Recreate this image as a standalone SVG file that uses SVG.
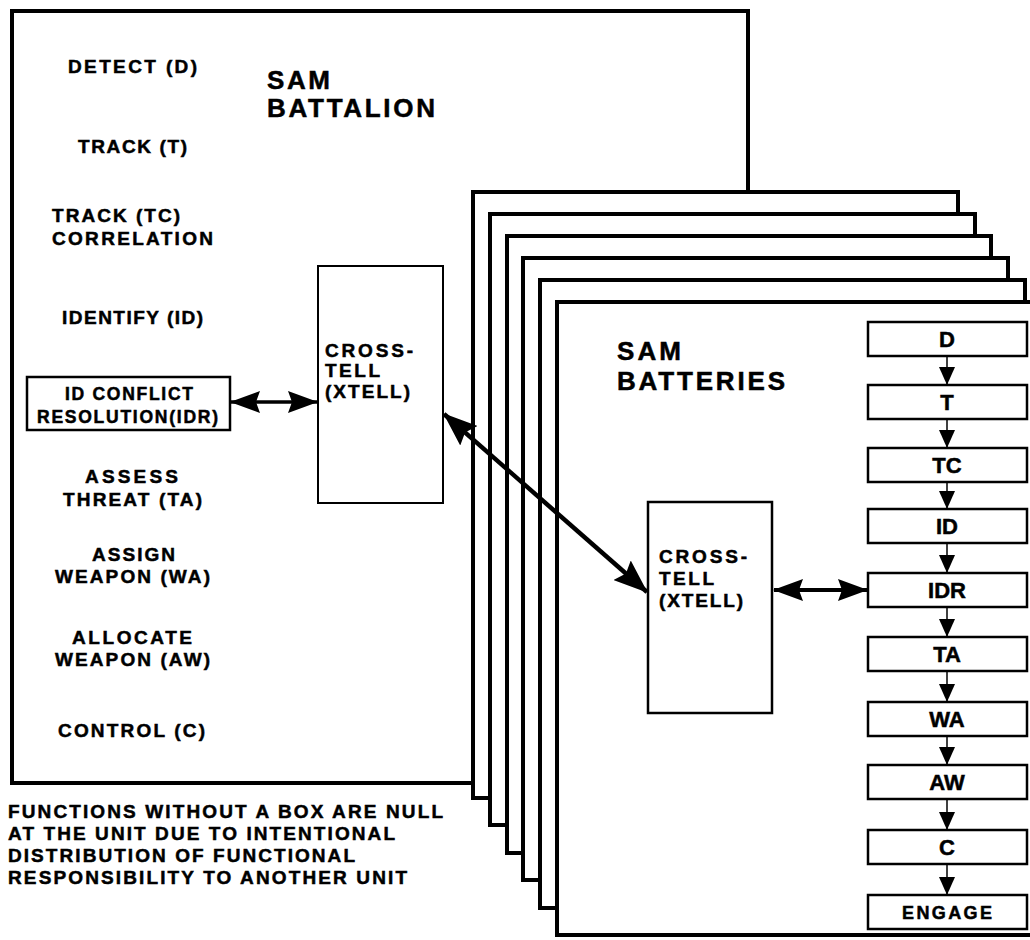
<svg xmlns="http://www.w3.org/2000/svg" width="1030" height="940" viewBox="0 0 1030 940">
<style>
text{font-family:"Liberation Sans",Arial,sans-serif;font-weight:bold;fill:#000;stroke:#000;stroke-width:0.5}
.lb{font-size:19px}
.sm{font-size:17.5px}
.big{font-size:26px}
.bx{font-size:22px;text-anchor:middle}
.c{text-anchor:middle}
.frame{fill:#fff;stroke:#000;stroke-width:4}
.box{fill:#fff;stroke:#000;stroke-width:2.5}
.cl{fill:none;stroke:#000}
</style>
<defs>
<marker id="ah" markerUnits="userSpaceOnUse" markerWidth="30" markerHeight="22" refX="29" refY="11" orient="auto-start-reverse" viewBox="0 0 30 22">
<path d="M0,0 L30,11 L0,22 L4,11 Z" fill="#000"/>
</marker>
<marker id="ahd" markerUnits="userSpaceOnUse" markerWidth="34" markerHeight="26" refX="33" refY="13" orient="auto-start-reverse" viewBox="0 0 34 26">
<path d="M0,0 L34,13 L0,26 L5,13 Z" fill="#000"/>
</marker>
<marker id="sm" markerUnits="userSpaceOnUse" markerWidth="18" markerHeight="16" refX="18" refY="8" orient="auto" viewBox="0 0 18 16">
<path d="M0,0 L18,8 L0,16 Z" fill="#000"/>
</marker>
</defs>

<g id="battalion">
<rect class="frame" x="12" y="11" width="736" height="772"/>
<text class="big" x="267" y="89" textLength="63">SAM</text>
<text class="big" x="267" y="117" textLength="168">BATTALION</text>
<text class="lb c" x="132.5" y="73" textLength="129">DETECT (D)</text>
<text class="lb c" x="132.5" y="153" textLength="109">TRACK (T)</text>
<text class="lb" x="52" y="222" textLength="128">TRACK (TC)</text>
<text class="lb" x="52" y="245" textLength="161">CORRELATION</text>
<text class="lb c" x="132.5" y="324" textLength="141">IDENTIFY (ID)</text>
<text class="lb c" x="131.5" y="483" textLength="93">ASSESS</text>
<text class="lb c" x="132.5" y="506" textLength="139">THREAT (TA)</text>
<text class="lb c" x="133.5" y="561" textLength="83">ASSIGN</text>
<text class="lb c" x="132.5" y="583" textLength="155">WEAPON (WA)</text>
<text class="lb c" x="132" y="644" textLength="120">ALLOCATE</text>
<text class="lb c" x="132.5" y="666" textLength="155">WEAPON (AW)</text>
<text class="lb c" x="131.5" y="737" textLength="147">CONTROL (C)</text>
</g>

<g id="idr-battalion">
<rect class="box" x="27" y="377" width="203" height="53"/>
<text class="sm c" x="129" y="400" textLength="128">ID CONFLICT</text>
<text class="sm c" x="127.5" y="423" textLength="181">RESOLUTION(IDR)</text>
</g>

<g id="xtell-battalion">
<rect class="box" x="318" y="266" width="125" height="237" style="stroke-width:2"/>
<text class="lb" x="325" y="357" textLength="88">CROSS-</text>
<text class="lb" x="325" y="377" textLength="55">TELL</text>
<text class="lb" x="325" y="398" textLength="85">(XTELL)</text>
</g>

<g id="batteries-stack">
<rect class="frame" x="473" y="192" width="485" height="606"/>
<rect class="frame" x="490" y="214" width="485" height="611"/>
<rect class="frame" x="507" y="236" width="484" height="617"/>
<rect class="frame" x="523" y="258" width="485" height="622"/>
<rect class="frame" x="540" y="280" width="485" height="628"/>
<rect class="frame" x="557" y="302" width="485" height="633"/>
</g>

<g id="batteries">
<text class="big" x="617" y="360" textLength="64">SAM</text>
<text class="big" x="617" y="390" textLength="168">BATTERIES</text>
</g>

<g id="xtell-battery">
<rect class="box" x="648" y="502" width="124" height="211"/>
<text class="lb" x="659" y="563" textLength="88">CROSS-</text>
<text class="lb" x="659" y="585" textLength="55">TELL</text>
<text class="lb" x="659" y="607" textLength="84">(XTELL)</text>
</g>

<g id="chain">
<g id="n-D"><rect class="box" x="868" y="322" width="159" height="34"/><text class="bx" x="947" y="347">D</text></g>
<g id="n-T"><rect class="box" x="868" y="385" width="159" height="34"/><text class="bx" x="947" y="410">T</text></g>
<g id="n-TC"><rect class="box" x="868" y="448" width="159" height="34"/><text class="bx" x="947" y="473">TC</text></g>
<g id="n-ID"><rect class="box" x="868" y="509" width="159" height="34"/><text class="bx" x="947" y="534">ID</text></g>
<g id="n-IDR"><rect class="box" x="868" y="573" width="159" height="34"/><text class="bx" x="947" y="598">IDR</text></g>
<g id="n-TA"><rect class="box" x="868" y="637" width="159" height="34"/><text class="bx" x="947" y="662">TA</text></g>
<g id="n-WA"><rect class="box" x="868" y="702" width="159" height="34"/><text class="bx" x="947" y="727">WA</text></g>
<g id="n-AW"><rect class="box" x="868" y="765" width="159" height="34"/><text class="bx" x="947" y="790">AW</text></g>
<g id="n-C"><rect class="box" x="868" y="830" width="159" height="34"/><text class="bx" x="947" y="855">C</text></g>
<g id="n-ENGAGE"><rect class="box" x="868" y="895" width="159" height="34"/><text class="bx" x="947" y="919" textLength="90" style="font-size:18px">ENGAGE</text></g>
</g>

<g id="note">
<text class="lb" x="8" y="818" textLength="435">FUNCTIONS WITHOUT A BOX ARE NULL</text>
<text class="lb" x="8" y="840" textLength="387">AT THE UNIT DUE TO INTENTIONAL</text>
<text class="lb" x="8" y="862" textLength="347">DISTRIBUTION OF FUNCTIONAL</text>
<text class="lb" x="8" y="884" textLength="399">RESPONSIBILITY TO ANOTHER UNIT</text>
</g>

<g id="connectors">
<line class="cl" x1="231" y1="402" x2="317" y2="402" stroke-width="3.5" marker-start="url(#ah)" marker-end="url(#ah)"/>
<line class="cl" x1="444" y1="414" x2="647" y2="592" stroke-width="4.5" marker-start="url(#ahd)" marker-end="url(#ahd)"/>
<line class="cl" x1="774" y1="590" x2="867" y2="590" stroke-width="4" marker-start="url(#ah)" marker-end="url(#ah)"/>
<g stroke-width="1.5">
<line class="cl" x1="947" y1="356" x2="947" y2="385" marker-end="url(#sm)"/>
<line class="cl" x1="947" y1="419" x2="947" y2="448" marker-end="url(#sm)"/>
<line class="cl" x1="947" y1="482" x2="947" y2="509" marker-end="url(#sm)"/>
<line class="cl" x1="947" y1="543" x2="947" y2="573" marker-end="url(#sm)"/>
<line class="cl" x1="947" y1="607" x2="947" y2="637" marker-end="url(#sm)"/>
<line class="cl" x1="947" y1="671" x2="947" y2="702" marker-end="url(#sm)"/>
<line class="cl" x1="947" y1="736" x2="947" y2="765" marker-end="url(#sm)"/>
<line class="cl" x1="947" y1="799" x2="947" y2="830" marker-end="url(#sm)"/>
<line class="cl" x1="947" y1="864" x2="947" y2="895" marker-end="url(#sm)"/>
</g>
</g>
</svg>
